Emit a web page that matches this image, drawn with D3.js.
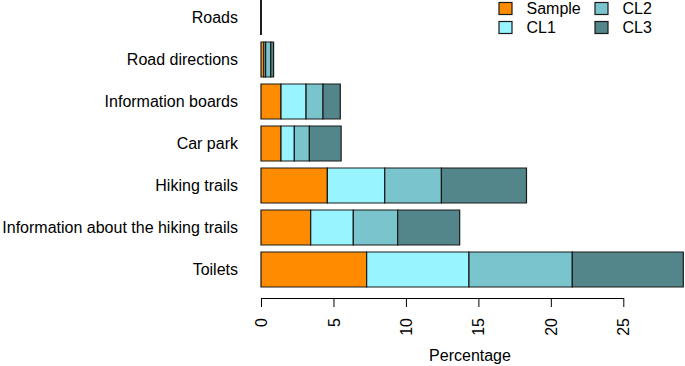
<!DOCTYPE html>
<html>
<head>
<meta charset="utf-8">
<script src="https://cdn.jsdelivr.net/npm/d3@7"></script>
<style>
  body { margin: 0; background: #fff; }
  svg { display: block; font-family: "Liberation Sans", Arial, sans-serif; }
</style>
</head>
<body>
<div id="chart"></div>
<script>
const categories = [
  "Roads",
  "Road directions",
  "Information boards",
  "Car park",
  "Hiking trails",
  "Information about the hiking trails",
  "Toilets"
];
const seriesNames = ["Sample", "CL1", "CL2", "CL3"];
const sample = [0, 0.2, 1.38, 1.38, 4.58, 3.43, 7.29];
const cl1 = [0, 0.12, 1.73, 0.92, 3.96, 2.94, 7.06];
const cl2 = [0, 0.35, 1.17, 1.04, 3.91, 3.06, 7.13];
const cl3 = [0, 0.2, 1.19, 2.19, 5.87, 4.28, 7.66];
const xTicks = [0, 5, 10, 15, 20, 25];
const colors = ["#FF8C00", "#98F5FF", "#7AC5CD", "#53868B"];

const width = 685, height = 366;

const svg = d3.select("#chart")
  .append("svg")
  .attr("width", width)
  .attr("height", height);

const rows = categories.map((c, i) => ({
  cat: c,
  Sample: sample[i],
  CL1: cl1[i],
  CL2: cl2[i],
  CL3: cl3[i]
}));

const stack = d3.stack().keys(seriesNames)(rows);

const x = d3.scaleLinear().domain([0, 25]).range([261, 623.3]);
const y = d3.scaleBand()
  .domain(categories)
  .range([0, 287])
  .paddingInner(1 / 6)
  .paddingOuter(0);
const color = d3.scaleOrdinal().domain(seriesNames).range(colors);

// bars drawn as closed paths so that zero-width segments still show their border
const barPath = (d) => {
  const x0 = x(d[0]), x1 = x(d[1]);
  const y0 = y(d.data.cat), h = y.bandwidth();
  return `M${x0},${y0}H${x1}V${y0 + h}H${x0}Z`;
};

svg.append("g")
  .selectAll("g")
  .data(stack)
  .join("g")
  .attr("fill", (d) => color(d.key))
  .selectAll("path")
  .data((d) => d)
  .join("path")
  .attr("d", barPath)
  .attr("stroke", "#1a1a1a")
  .attr("stroke-width", 1.2);

// category labels
svg.append("g")
  .selectAll("text")
  .data(categories)
  .join("text")
  .attr("x", 238)
  .attr("y", (d) => y(d) + y.bandwidth() / 2)
  .attr("dy", "0.35em")
  .attr("text-anchor", "end")
  .attr("font-size", 16)
  .attr("fill", "#000")
  .text((d) => d);

// x axis
const axis = svg.append("g")
  .attr("transform", "translate(0, 298)")
  .call(
    d3.axisBottom(x)
      .tickValues(xTicks)
      .tickSize(9)
      .tickSizeOuter(0)
      .tickFormat(d3.format("d"))
  );
axis.select(".domain").attr("stroke", "#000").attr("stroke-width", 1);
axis.selectAll(".tick line").attr("stroke", "#000").attr("stroke-width", 1);
axis.selectAll(".tick text")
  .attr("transform", "rotate(-90)")
  .attr("x", -20)
  .attr("y", 0)
  .attr("dy", "0.35em")
  .attr("text-anchor", "end")
  .attr("font-size", 16)
  .attr("font-family", "Liberation Sans, Arial, sans-serif")
  .attr("fill", "#000");

svg.append("text")
  .attr("x", 470)
  .attr("y", 361)
  .attr("text-anchor", "middle")
  .attr("font-size", 16)
  .text("Percentage");

// legend: Sample, CL1 in the first column; CL2, CL3 in the second
const legendItems = svg.append("g")
  .selectAll("g")
  .data(seriesNames)
  .join("g")
  .attr("transform", (d, i) => {
    const cx = i < 2 ? 499 : 595;
    const cy = i % 2 === 0 ? 8.5 : 27.5;
    return `translate(${cx}, ${cy})`;
  });
legendItems.append("rect")
  .attr("x", 0)
  .attr("y", -6)
  .attr("width", 13)
  .attr("height", 12)
  .attr("fill", (d) => color(d))
  .attr("stroke", "#1a1a1a")
  .attr("stroke-width", 1.2);
legendItems.append("text")
  .attr("x", 27.5)
  .attr("y", 0)
  .attr("dy", "0.35em")
  .attr("font-size", 16)
  .text((d) => d);
</script>
</body>
</html>
